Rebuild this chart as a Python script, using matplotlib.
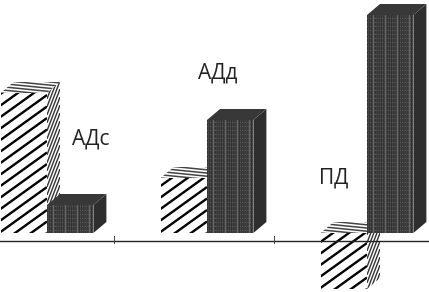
import matplotlib
matplotlib.use('Agg')
import matplotlib.pyplot as plt
from matplotlib.patches import Polygon
import numpy as np

# values (bar height above the floor, in pixels of the original)
groups = [0, 1, 2]
labels = ['АДс', 'АДд', 'ПД']
striped_values = [140, 55, -56]
dark_values = [28, 113, 218]
tick_positions = [0.42, 1.42]

bar_w = 0.29
depth_x = 13 / 160
depth_y = 11
label_pos = [(0.156, 94), (0.944, 160), (1.70, 55)]


def stripes(ax, poly, slope, step, lw, color='black'):
    # lines across the face, clipped to the polygon
    patch = Polygon(poly, closed=True, fc='none', ec='none', transform=ax.transData)
    ax.add_patch(patch)
    xs = [p[0] * 160 for p in poly]
    ys = [p[1] for p in poly]
    lo = min(ys) - max(slope * max(xs), slope * min(xs)) - step
    hi = max(ys) - min(slope * max(xs), slope * min(xs)) + step
    for c in np.arange(lo, hi, step):
        xx = np.array([min(xs), max(xs)])
        line, = ax.plot(xx / 160, slope * xx + c, color=color, lw=lw, solid_capstyle='butt', zorder=patch.get_zorder())
        line.set_clip_path(patch)


def dark_face(ax, poly):
    patch = Polygon(poly, closed=True, fc='#434343', ec='none')
    ax.add_patch(patch)
    xs = [p[0] * 160 for p in poly]
    ys = [p[1] for p in poly]
    for i, x in enumerate(np.arange(min(xs), max(xs), 2.0)):
        col = '#7a7a7a' if i % 6 == 3 else '#2c2c2c'
        line, = ax.plot([x / 160, x / 160], [min(ys), max(ys)], color=col, lw=0.6, alpha=0.8)
        line.set_clip_path(patch)
    for y in np.arange(min(ys) + 3, max(ys), 4.0):
        line, = ax.plot([min(xs) / 160, max(xs) / 160], [y, y], color='#6a6a6a', lw=0.6, ls=(0, (1, 2)))
        line.set_clip_path(patch)


def striped_bar(ax, x0, v):
    x1 = x0 + bar_w
    top = max(v, 0)
    bot = min(v, 0)
    front = [(x0, bot), (x1, bot), (x1, top), (x0, top)]
    side = [(x1, bot), (x1 + depth_x, bot + depth_y), (x1 + depth_x, top + depth_y), (x1, top)]
    cap = [(x0, top), (x1, top), (x1 + depth_x, top + depth_y), (x0 + depth_x, top + depth_y)]
    for poly in (front, side, cap):
        ax.add_patch(Polygon(poly, closed=True, fc='white', ec='none'))
    stripes(ax, front, 0.72, 11.5, 1.7)
    stripes(ax, side, 2.6, 8, 1.0, '#333333')
    stripes(ax, cap, -0.1, 3.2, 1.1, '#444444')


def dark_bar(ax, x0, v):
    x1 = x0 + bar_w
    front = [(x0, 0), (x1, 0), (x1, v), (x0, v)]
    side = [(x1, 0), (x1 + depth_x, depth_y), (x1 + depth_x, v + depth_y), (x1, v)]
    cap = [(x0, v), (x1, v), (x1 + depth_x, v + depth_y), (x0 + depth_x, v + depth_y)]
    dark_face(ax, front)
    ax.add_patch(Polygon(side, closed=True, fc='#2e2e2e', ec='none'))
    ax.add_patch(Polygon(cap, closed=True, fc='#383838', ec='none'))


fig = plt.figure(figsize=(4.29, 2.92), dpi=100)
ax = fig.add_axes([0, 0, 1, 1])

for g, s, d in zip(groups, striped_values, dark_values):
    striped_bar(ax, g - bar_w, s)
    dark_bar(ax, g, d)

ax.axhline(-8, color='#222222', lw=1.0, zorder=5)
for t in tick_positions:
    ax.plot([t, t], [-10, -3], color='#444444', lw=0.7, zorder=5)

for (x, y), lab in zip(label_pos, labels):
    ax.text(x, y, lab, fontsize=15, family='Open Sans', color='#222222', ha='left', va='center', zorder=6)

ax.set_xlim(-47 / 160, 382 / 160)
ax.set_ylim(-59, 233)
ax.axis('off')
fig.savefig('out.png', dpi=100)
